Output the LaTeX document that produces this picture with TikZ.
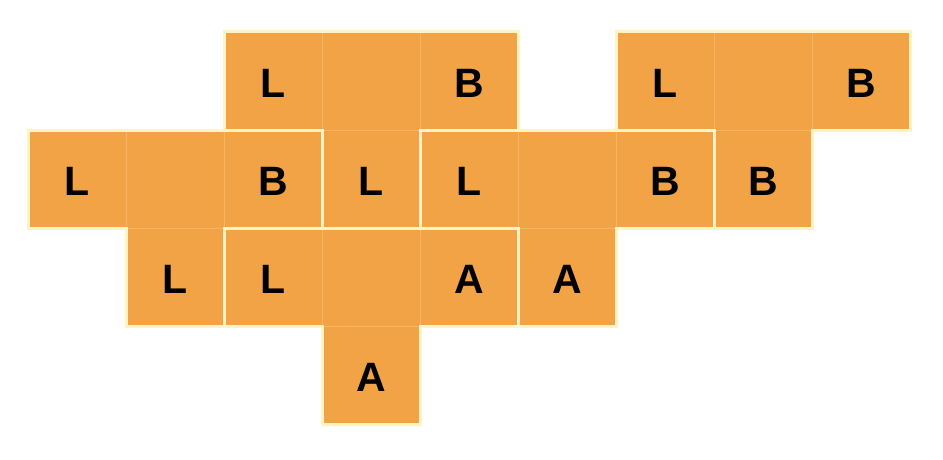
\documentclass[tikz,border=0pt]{standalone}
\usepackage{fontspec}
\setmainfont{Liberation Sans}
\definecolor{tileorange}{HTML}{F2A345}
\definecolor{cellline}{HTML}{F6B465}
\definecolor{edgeyellow}{HTML}{FFF4C2}
\tikzset{
  cellbox/.style={fill=tileorange, draw=cellline, line width=0.8pt},
  piece/.style={draw=edgeyellow, line width=3pt, line join=miter},
  letter/.style={font=\fontsize{41}{41}\selectfont\bfseries, text=black, inner sep=0pt, anchor=center}
}
\newcommand{\tilecell}[2]{\path[cellbox] ({28+98*#1},{32+98*#2}) rectangle ++(98,98);}
\begin{document}
\begin{tikzpicture}[x=1pt,y=-1pt]
\useasboundingbox (0,0) rectangle (943,460);
\fill[white] (0,0) rectangle (943,460);
% cells
\foreach \c/\r in {2/0,3/0,4/0,6/0,7/0,8/0,
                   0/1,1/1,2/1,3/1,4/1,5/1,6/1,7/1,
                   1/2,2/2,3/2,4/2,5/2,
                   3/3}{\tilecell{\c}{\r}}
% piece outlines
\draw[piece] (224,32)--(518,32)--(518,130)--(420,130)--(420,228)--(322,228)--(322,130)--(224,130)--cycle;
\draw[piece] (28,130)--(322,130)--(322,228)--(224,228)--(224,326)--(126,326)--(126,228)--(28,228)--cycle;
\draw[piece] (224,228)--(518,228)--(518,326)--(420,326)--(420,424)--(322,424)--(322,326)--(224,326)--cycle;
\draw[piece] (420,130)--(714,130)--(714,228)--(616,228)--(616,326)--(518,326)--(518,228)--(420,228)--cycle;
\draw[piece] (616,32)--(910,32)--(910,130)--(812,130)--(812,228)--(714,228)--(714,130)--(616,130)--cycle;
% letters
\node[letter] (t1a) at (273,83) {L};
\node[letter] (t1b) at (469,83) {B};
\node[letter] (t5a) at (665,83) {L};
\node[letter] (t5b) at (861,83) {B};
\node[letter] (t2a) at (77,181) {L};
\node[letter] (t2b) at (273,181) {B};
\node[letter] (t1c) at (371,181) {L};
\node[letter] (t4a) at (469,181) {L};
\node[letter] (t4b) at (665,181) {B};
\node[letter] (t5c) at (763,181) {B};
\node[letter] (t2c) at (175,279) {L};
\node[letter] (t3a) at (273,279) {L};
\node[letter] (t3b) at (469,279) {A};
\node[letter] (t4c) at (567,279) {A};
\node[letter] (t3c) at (371,377) {A};
\end{tikzpicture}
\end{document}
